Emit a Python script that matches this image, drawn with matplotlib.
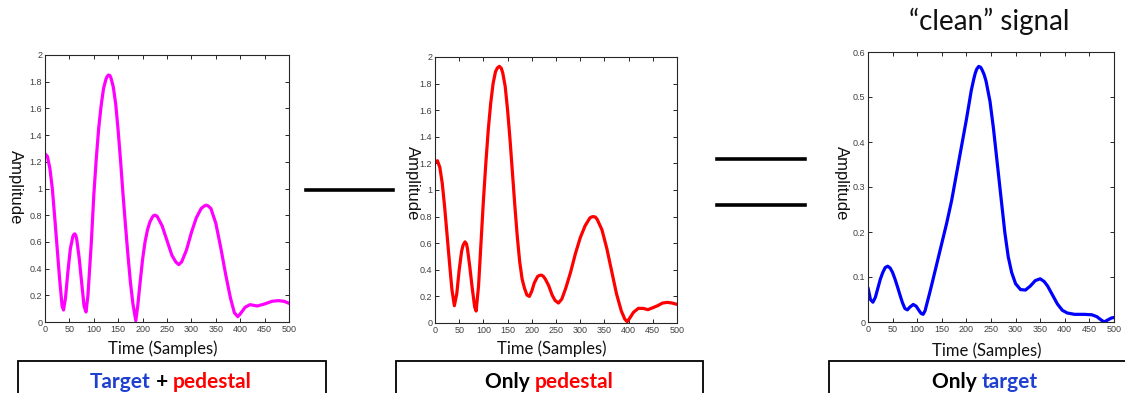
import matplotlib
matplotlib.use("Agg")
import matplotlib.pyplot as plt
from matplotlib.patches import Rectangle
from matplotlib.lines import Line2D
from matplotlib.offsetbox import TextArea, HPacker, AnnotationBbox

# --- data ---
mix_t = [0, 5, 10, 15, 20, 25, 30, 35, 38, 42, 47, 52, 57, 59, 61, 63, 65, 70, 75, 80,
         84, 88, 95, 100, 105, 110, 115, 120, 125, 127, 130, 133, 135, 140, 145, 150, 155,
         160, 165, 170, 175, 180, 186, 190, 195, 200, 205, 210, 215, 220, 222, 225, 228,
         230, 240, 250, 260, 268, 274, 280, 290, 300, 310, 320, 326, 330, 334, 340, 350,
         360, 370, 380, 388, 395, 400, 410, 420, 435, 450, 465, 478, 490, 500]
mix_amp = [1.26, 1.24, 1.15, 1.0, 0.78, 0.55, 0.32, 0.12, 0.09, 0.18, 0.38, 0.55, 0.64,
           0.655, 0.66, 0.65, 0.62, 0.48, 0.30, 0.12, 0.075, 0.2, 0.6, 0.95, 1.22, 1.45,
           1.62, 1.75, 1.82, 1.837, 1.85, 1.846, 1.83, 1.76, 1.63, 1.43, 1.2, 0.95, 0.72,
           0.5, 0.3, 0.14, 0.01, 0.12, 0.3, 0.47, 0.6, 0.69, 0.75, 0.785, 0.795, 0.8, 0.796,
           0.79, 0.72, 0.61, 0.5, 0.45, 0.43, 0.45, 0.54, 0.67, 0.78, 0.85, 0.868, 0.875,
           0.87, 0.85, 0.74, 0.56, 0.36, 0.18, 0.07, 0.04, 0.06, 0.11, 0.13, 0.12, 0.135,
           0.155, 0.16, 0.155, 0.14]

ped_t = [0, 5, 10, 15, 20, 25, 30, 35, 40, 45, 50, 55, 58, 62, 65, 67, 72, 77, 82, 85,
         90, 95, 100, 105, 110, 115, 120, 125, 129, 133, 137, 140, 145, 150, 155, 160, 165,
         170, 175, 180, 185, 190, 195, 200, 205, 212, 216, 220, 224, 228, 235, 242, 248,
         255, 262, 270, 280, 290, 300, 310, 320, 324, 327, 331, 335, 345, 355, 365, 375,
         385, 392, 397, 403, 410, 420, 430, 440, 450, 460, 470, 480, 490, 500]
ped_amp = [1.21, 1.22, 1.17, 1.05, 0.87, 0.66, 0.45, 0.25, 0.13, 0.22, 0.4, 0.54, 0.585,
           0.61, 0.595, 0.56, 0.42, 0.26, 0.12, 0.09, 0.28, 0.6, 0.92, 1.2, 1.45, 1.65, 1.8,
           1.89, 1.918, 1.93, 1.915, 1.88, 1.78, 1.6, 1.38, 1.13, 0.88, 0.65, 0.46, 0.33,
           0.26, 0.21, 0.2, 0.24, 0.3, 0.35, 0.358, 0.36, 0.35, 0.33, 0.28, 0.21, 0.17,
           0.15, 0.18, 0.26, 0.38, 0.52, 0.64, 0.73, 0.79, 0.798, 0.8, 0.797, 0.78, 0.7,
           0.56, 0.39, 0.22, 0.09, 0.03, 0.01, 0.04, 0.08, 0.11, 0.11, 0.1, 0.115, 0.13,
           0.15, 0.155, 0.15, 0.14]

tgt_t = [0, 5, 10, 15, 20, 25, 30, 35, 40, 45, 50, 55, 60, 65, 70, 75, 80, 85, 92, 98,
         104, 108, 112, 116, 120, 125, 130, 140, 150, 160, 170, 180, 190, 200, 210, 215,
         218, 221, 225, 229, 232, 236, 240, 248, 255, 262, 270, 278, 285, 292, 300, 310,
         320, 330, 340, 350, 358, 365, 375, 385, 395, 405, 420, 440, 455, 465, 472, 480,
         488, 495, 500]
tgt_amp = [0.076, 0.05, 0.044, 0.055, 0.075, 0.095, 0.11, 0.121, 0.124, 0.12, 0.11, 0.095,
           0.078, 0.06, 0.043, 0.03, 0.027, 0.033, 0.039, 0.035, 0.025, 0.019, 0.017,
           0.025, 0.042, 0.063, 0.085, 0.13, 0.175, 0.22, 0.27, 0.33, 0.39, 0.45, 0.515,
           0.54, 0.553, 0.562, 0.568, 0.566, 0.56, 0.55, 0.535, 0.49, 0.43, 0.36, 0.28,
           0.2, 0.145, 0.11, 0.085, 0.072, 0.071, 0.08, 0.092, 0.096, 0.09, 0.08, 0.06,
           0.04, 0.026, 0.02, 0.017, 0.017, 0.016, 0.012, 0.006, 0.0, 0.005, 0.009, 0.01]

x_ticks = [0, 50, 100, 150, 200, 250, 300, 350, 400, 450, 500]
y_ticks_big = [0, 0.2, 0.4, 0.6, 0.8, 1, 1.2, 1.4, 1.6, 1.8, 2]
y_ticks_small = [0, 0.1, 0.2, 0.3, 0.4, 0.5, 0.6]

BLUE_TXT = "#1f3fd1"
RED_TXT = "#ff0000"

W, H = 1125, 393
fig = plt.figure(figsize=(W / 100, H / 100), dpi=100, facecolor="white")

tick_font = ["Liberation Sans Narrow", "Liberation Sans"]


def px_axes(left, top, right, bottom):
    return fig.add_axes([left / W, 1 - bottom / H, (right - left) / W, (bottom - top) / H])


def style_panel(ax, t, amp, color, ymax, yticks, ylab_x, ylab_y, xlab_y):
    ax.plot(t, amp, color=color, lw=2.3, solid_capstyle="round", solid_joinstyle="round")
    ax.set_xlim(0, 500)
    ax.set_ylim(0, ymax)
    ax.set_xticks(x_ticks)
    ax.set_yticks(yticks)
    ax.set_yticklabels([f"{v:g}" for v in yticks])
    ax.tick_params(direction="in", length=3, width=0.7, top=True, right=True,
                   labelsize=6.5, labelcolor="#404040", colors="#262626", pad=2)
    for lab in ax.get_xticklabels() + ax.get_yticklabels():
        lab.set_family(tick_font)
        lab.set_color("#404040")
    for sp in ax.spines.values():
        sp.set_linewidth(0.8)
        sp.set_color("#262626")
    fig.text(ylab_x / W, 1 - ylab_y / H, "Amplitude", rotation=270, ha="center",
             va="center", fontsize=12, family="Liberation Sans", color="#111111")
    bb = ax.get_position()
    fig.text((bb.x0 + bb.x1) / 2 - 0.004, 1 - xlab_y / H, "Time (Samples)",
             ha="center", va="center", fontsize=12, family="Lato", color="#111111")


ax1 = px_axes(45, 55, 289, 322)
style_panel(ax1, mix_t, mix_amp, "#ff00ff", 2, y_ticks_big, 15, 187, 349)

ax2 = px_axes(435, 57, 677, 323)
style_panel(ax2, ped_t, ped_amp, "#ff0000", 2, y_ticks_big, 412, 183, 349)

ax3 = px_axes(868, 52, 1114, 322)
style_panel(ax3, tgt_t, tgt_amp, "#0000ff", 0.6, y_ticks_small, 841, 183, 351)

# title above third panel
fig.text(989 / W, 1 - 21 / H, "\u201cclean\u201d signal", ha="center", va="center",
         fontsize=20, family="Lato", color="#111111")

# minus and equals signs
fig.add_artist(Line2D([306 / W, 393 / W], [1 - 190 / H, 1 - 190 / H], color="black", lw=2.6))
fig.add_artist(Line2D([717 / W, 805 / W], [1 - 159 / H, 1 - 159 / H], color="black", lw=2.6))
fig.add_artist(Line2D([717 / W, 805 / W], [1 - 205 / H, 1 - 205 / H], color="black", lw=2.6))

# caption boxes at the bottom
for x0, x1 in [(18, 326), (396, 703), (829, 1140)]:
    fig.add_artist(Rectangle((x0 / W, -0.2), (x1 - x0) / W, 0.2 + 1 - 361 / H,
                             transform=fig.transFigure, fill=False,
                             edgecolor="black", lw=1.3))


def caption(parts, cx, cy):
    areas = [TextArea(s, textprops=dict(color=c, fontsize=15, family="Lato",
                                        weight="bold")) for s, c in parts]
    box = HPacker(children=areas, pad=0, sep=0, align="baseline")
    ab = AnnotationBbox(box, (cx / W, 1 - cy / H), xycoords="figure fraction",
                        frameon=False, box_alignment=(0.5, 0.5), pad=0)
    fig.add_artist(ab)


caption([("Target", BLUE_TXT), (" + ", "black"), ("pedestal", RED_TXT)], 171, 382)
caption([("Only ", "black"), ("pedestal", RED_TXT)], 549, 382)
caption([("Only ", "black"), ("target", BLUE_TXT)], 985, 382)

fig.savefig("out.png", dpi=100, facecolor="white")
